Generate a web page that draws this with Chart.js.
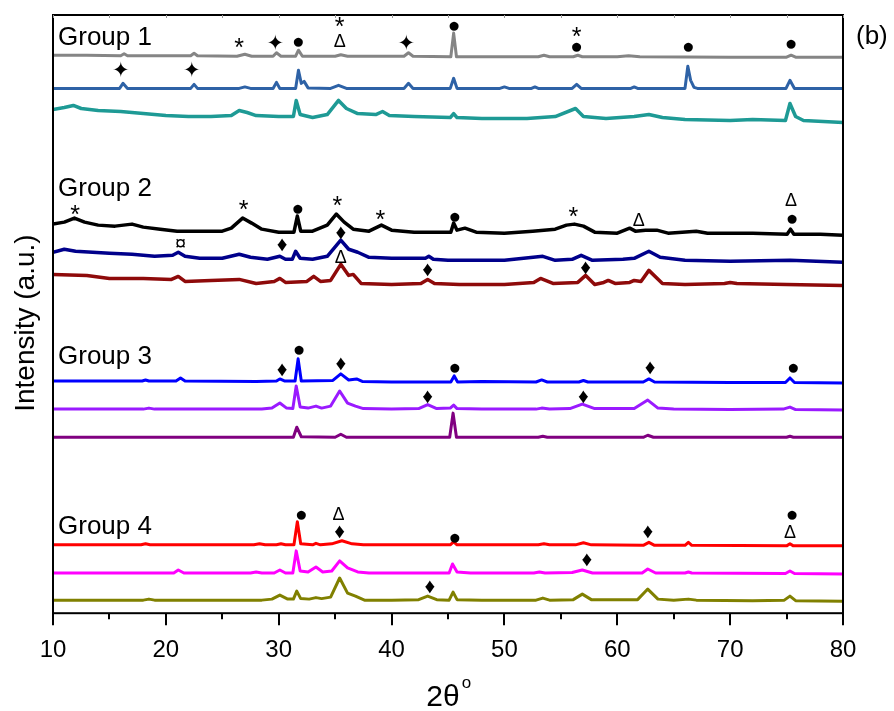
<!DOCTYPE html>
<html>
<head>
<meta charset="utf-8">
<script src="https://cdn.jsdelivr.net/npm/chart.js@4.4.1/dist/chart.umd.min.js"></script>
<style>
  html, body { margin: 0; padding: 0; background: #fff; }
  #wrap { position: relative; width: 894px; height: 711px; }
</style>
</head>
<body>
<div id="wrap"><canvas id="xrdChart"></canvas></div>
<script>
"use strict";

// ====
// Data  (x = 2theta in degrees, y = stacked intensity, a.u.)
// ====
const group1Gray = [[10,555],[13,555],[16,554.5],[16.3,556.5],[16.6,554.5],[19,554.5],[22.2,554.5],[22.5,557],[22.8,554.5],[26.3,554],[27,556],[27.6,554],[29.5,554],[29.8,557.5],[30.2,554],[31.5,554],[31.75,560],[32.1,554],[35,554],[35.5,555.5],[36.1,554],[41.1,554],[41.5,557.5],[41.9,554],[45.25,553.5],[45.5,577],[45.75,553.5],[48,553.5],[53,553.5],[53.5,555],[54,553.5],[56.1,553.5],[56.5,555],[56.9,553.5],[60,553.5],[61,554.5],[62,553.5],[70,553],[75,553],[75.4,555],[75.8,553],[80,553]];
const group1Blue = [[10,522],[15.9,522],[16.2,527],[16.6,522],[22.2,522],[22.5,526],[22.8,522],[26.5,522],[27,523.5],[27.5,522],[29.5,522],[29.8,528],[30.1,522],[31.5,522],[31.75,540],[32.0,527],[32.25,529],[32.6,522.5],[34.6,522],[35.3,525],[36,522],[41.1,522],[41.5,527],[41.9,522],[45.2,522],[45.5,532],[45.8,522],[49.6,522],[50,523.5],[50.4,522],[52.4,522],[52.7,523.5],[53,522],[56,522],[56.4,526],[56.8,522],[61.2,522],[61.5,523.5],[61.8,522],[66,522],[66.25,544],[66.5,530],[66.8,523],[67.1,522],[74.95,522],[75.3,530],[75.7,522],[80,522]];
const group1Teal = [[10,501],[11,503],[11.8,505],[12.5,502],[14,500],[16,499],[18,497],[20,495],[22,494],[24,494],[25.8,495],[26.5,500],[27.2,498],[28,495],[30,494],[31.3,494],[31.55,510],[31.9,496],[33,493],[34.3,496],[35.3,510],[36,502],[37,497],[38.6,496],[39.2,499],[39.8,495],[42,494],[45.2,493],[45.5,497],[45.8,493],[48,492],[52,492],[54.5,494],[56.3,502],[57,494],[59,492],[61.5,494],[62.8,496],[64,493],[66,491],[70,490],[72,491],[74.9,490],[75.3,507],[75.8,494],[76.5,490],[80,488]];

const group2Black = [[10,387],[11,389],[11.9,393],[12.8,389],[14,386],[15.5,385],[17,387],[18,384],[19.5,382],[21,380],[23,380],[25,380],[25.8,383],[26.8,393],[27.6,388],[28.5,382],[30,379],[31.35,379],[31.65,395],[31.95,380],[33,380],[34.3,386],[35.1,397],[35.8,389],[36.6,382],[38,380],[39.1,386],[40,381],[42,379],[45.25,379],[45.5,388],[45.8,381],[46.5,383],[47.5,379],[50,378],[52.5,380],[54.5,382],[55.5,386],[56.2,387],[57,385],[58,379],[60,378],[61.1,383],[61.6,380],[62.5,381],[63.5,381],[64.5,378],[67,380],[68,378],[72,378],[75.05,377],[75.35,382],[75.65,377],[78,377],[80,376]];
const group2Navy = [[10,359],[11,362],[12,360],[15,358],[17,357],[19,355],[20.6,356],[21.1,359],[21.7,355],[23,353],[25,353],[26.5,357],[27.5,354],[29,352],[30.1,355],[30.6,352],[31.2,352],[31.5,360],[31.9,353],[33,352],[34.3,355],[35.5,371],[36.2,362],[37,359],[38,354],[40,353],[43,353],[43.3,355],[43.7,352],[45,351],[47,351],[50,351],[53.4,355],[54.5,351],[56,352],[56.8,356],[57.8,351],[60.5,352],[61.5,353],[62.8,360],[63.8,354],[66,351],[70,350],[75.3,351],[80,349]];
const group2DarkRed = [[10,337],[13,336],[15,333],[18,333],[20.5,332],[21.1,335],[21.7,330],[24,331],[26.5,332],[28,328],[29.6,330],[30.1,333],[30.6,329],[32.5,330],[33.1,335],[33.7,330],[34.6,331],[35.5,347],[36.2,336],[36.6,337],[37.3,328],[40,327],[42.6,328],[43.2,332],[43.8,328],[46,327],[50,327],[52.6,329],[53.2,333],[54.3,328],[56.5,329],[57.2,336],[58,327],[58.8,329],[59.2,331],[59.8,328],[61.1,329],[61.5,331],[62.1,330],[62.8,341],[64,328],[66,327],[69.5,328],[70,329],[70.6,328],[75,327],[80,326]];

const group3Blue = [[10,231],[17.9,231],[18.2,232],[18.5,231],[20.9,231],[21.3,234],[21.7,231],[28,230.5],[29.8,231],[30.1,233],[30.5,231],[31.45,231],[31.72,253],[32.0,231],[34.8,231.5],[35.5,238],[36.2,232],[36.9,233],[37.4,230.5],[40,230],[45.25,230],[45.55,236],[45.85,230],[48,230.5],[52.8,230],[53.3,232],[53.8,230],[56.6,230],[57,231.5],[57.4,230],[62.3,230],[62.8,233],[63.3,230],[70,229.5],[74.9,229.5],[75.3,234],[75.7,229.5],[80,229]];
const group3Violet = [[10,203],[18,203],[18.5,204],[19,203],[28.5,203],[29.4,204],[30.1,209],[30.7,204],[31.25,203.5],[31.55,226],[31.9,205],[32.6,204],[33.3,206],[33.8,204],[34.6,206],[35.4,221],[36.1,209],[36.8,206],[37.5,203.5],[40,203],[42.4,203.5],[43.2,207.5],[44,203.5],[45.2,204],[45.5,207],[45.8,203.5],[48,203],[52.8,203],[53.3,204],[54,203],[55.8,203.5],[56.9,208],[58,203.5],[61.5,203.5],[62.7,212],[63.6,204],[65,203],[70,202.5],[74.7,203],[75.3,205],[75.8,202.5],[80,202]];
const group3Purple = [[10,175],[30,175],[31.3,175],[31.6,185],[32.0,175.5],[35,175],[35.5,178],[36,175],[45.15,175],[45.45,199],[45.75,175],[53,175],[53.4,176],[53.8,175],[62.3,175],[62.7,177],[63.2,175],[75,175],[75.3,176],[75.6,175],[80,175]];

const group4Red = [[10,68],[17.8,68],[18.2,69],[18.6,68],[27.8,68],[28.3,69],[28.8,68],[29.8,68],[30.2,69],[30.6,68],[31.35,68],[31.65,91],[31.95,69],[33,68],[33.3,69.5],[33.7,68],[34.7,69],[35.6,72],[36.5,69],[37.5,68],[45.2,68],[45.5,71],[45.8,68],[53,68],[53.5,69],[54,68],[56.3,68],[57,70],[57.7,68],[62.3,67.5],[62.8,70.5],[63.3,67.5],[66,67.5],[66.3,70.5],[66.6,67.5],[75,67],[75.3,69],[75.6,67],[80,67]];
const group4Magenta = [[10,40],[20.7,40],[21.1,43],[21.6,40],[27.5,40],[28,41],[28.5,40],[29.6,40],[30.1,43],[30.6,40],[31.25,40],[31.55,62],[31.9,42],[32.6,41],[33.3,46],[33.9,41],[34.7,42],[35.4,52],[36.1,45],[37,41],[38,40],[45.1,40],[45.4,49],[45.8,41],[47,40],[52.6,40],[53.1,41],[53.6,40],[56,40.5],[56.9,43],[57.8,40],[62.2,40],[62.7,44],[63.4,40],[66,40],[66.3,41],[66.6,40],[74.9,39.5],[75.3,42],[75.7,39.5],[80,39]];
const group4Olive = [[10,13],[18,13],[18.5,14],[19,13],[28.5,13],[29.4,14],[30.1,18],[30.8,14],[31.3,14],[31.6,22],[31.95,14.5],[32.7,14],[33.3,15.5],[33.8,14.5],[34.6,16],[35.4,35],[36.1,20],[36.8,17],[37.6,13],[40,13],[42.4,13.5],[43.2,17],[44,13.5],[45.1,13],[45.45,21],[45.8,13.5],[48,13],[52.8,13],[53.4,15],[54,13],[56.1,13.5],[56.9,19],[57.7,13.5],[61.8,13.5],[62.7,24],[63.6,14],[65,13],[66.3,14],[67,13],[72,12.5],[74.8,13],[75.3,17],[75.8,12.5],[80,12]];

// phase markers: [symbol, 2theta, height]
const peakMarks = [
  ["*", 26.5, 566], ["✦", 29.7, 566], ["●", 31.75, 569], ["*", 35.4, 587], ["Δ", 35.4, 568],
  ["✦", 41.3, 566], ["●", 45.55, 585], ["*", 56.4, 577], ["●", 56.4, 564], ["●", 66.3, 564],
  ["●", 75.4, 567], ["✦", 16.0, 539], ["✦", 22.3, 539],
  ["*", 11.95, 400], ["*", 26.9, 405], ["●", 31.7, 403], ["*", 35.2, 409], ["*", 39.0, 395],
  ["●", 45.6, 395], ["*", 56.1, 398], ["Δ", 61.9, 390], ["Δ", 75.4, 410], ["●", 75.5, 393],
  ["¤", 21.3, 367], ["♦", 30.3, 366], ["♦", 35.5, 378], ["Δ", 35.5, 353], ["♦", 43.2, 341],
  ["♦", 57.2, 343],
  ["♦", 30.3, 242], ["●", 31.8, 263], ["♦", 35.5, 248], ["●", 45.6, 245], ["♦", 62.9, 244],
  ["●", 75.6, 245], ["♦", 43.2, 215], ["♦", 57.0, 215],
  ["●", 32.0, 98], ["Δ", 35.3, 98], ["♦", 35.4, 81], ["●", 45.6, 76], ["♦", 62.7, 81],
  ["●", 75.5, 98], ["Δ", 75.3, 80], ["♦", 43.4, 26], ["♦", 57.3, 53],
];

const groupLabels = ["Group 1", "Group 2", "Group 3", "Group 4"];
const groupLabelHeights = [565, 415, 248, 79];

const majorTicks = [10, 20, 30, 40, 50, 60, 70, 80];
const minorTicks = [15, 25, 35, 45, 55, 65, 75];

// ======
// Styles
// ======
const SERIES = [
  { data: group1Gray, color: "#858585", width: 3 },
  { data: group1Blue, color: "#2E62A6", width: 3 },
  { data: group1Teal, color: "#1E9A95", width: 3.5 },
  { data: group2Black, color: "#000000", width: 3.5 },
  { data: group2Navy, color: "#00008B", width: 3.5 },
  { data: group2DarkRed, color: "#8E0A0A", width: 3.5 },
  { data: group3Blue, color: "#0000FF", width: 3 },
  { data: group3Violet, color: "#9A1AFF", width: 3 },
  { data: group3Purple, color: "#800080", width: 3 },
  { data: group4Red, color: "#FF0000", width: 3 },
  { data: group4Magenta, color: "#FF00FF", width: 3 },
  { data: group4Olive, color: "#808000", width: 3 },
];

const FONT = "'Liberation Sans', Arial, sans-serif";
const MARK_STYLE = {
  "●": { font: "21px " + FONT, dy: 1 },
  "♦": { font: "21px " + FONT, dy: 0 },
  "Δ": { font: "18px " + FONT, dy: 0 },
  "*": { font: "25px " + FONT, dy: 5 },
  "✦": { font: "21px 'DejaVu Sans', sans-serif", dy: 0 },
  "¤": { font: "20px " + FONT, dy: 0 },
};

// ==============
// Overlay plugin
// ==============
const overlayPlugin = {
  id: "xrdOverlay",
  afterDraw(chart) {
    const { ctx, chartArea: a } = chart;
    const x = chart.scales.x;
    const y = chart.scales.y;
    ctx.save();

    // frame
    ctx.strokeStyle = "#000";
    ctx.lineWidth = 2;
    ctx.strokeRect(a.left, a.top, a.right - a.left, a.bottom - a.top);

    // bottom ticks (outside)
    ctx.beginPath();
    majorTicks.forEach((v) => {
      const px = Math.round(x.getPixelForValue(v));
      ctx.moveTo(px, a.bottom);
      ctx.lineTo(px, a.bottom + 12);
    });
    minorTicks.forEach((v) => {
      const px = Math.round(x.getPixelForValue(v));
      ctx.moveTo(px, a.bottom);
      ctx.lineTo(px, a.bottom + 6);
    });
    ctx.stroke();

    // faint top ticks (inside)
    ctx.lineWidth = 1;
    ctx.strokeStyle = "#999";
    ctx.beginPath();
    [...majorTicks, ...minorTicks].forEach((v) => {
      const px = Math.round(x.getPixelForValue(v)) + 0.5;
      ctx.moveTo(px, a.top);
      ctx.lineTo(px, a.top + 3);
    });
    ctx.stroke();

    // phase markers
    ctx.fillStyle = "#000";
    ctx.textAlign = "center";
    ctx.textBaseline = "middle";
    peakMarks.forEach(([sym, tx, ty]) => {
      const st = MARK_STYLE[sym];
      ctx.font = st.font;
      ctx.fillText(sym, x.getPixelForValue(tx), y.getPixelForValue(ty) + st.dy);
    });

    // group labels
    ctx.font = "26px " + FONT;
    ctx.textAlign = "left";
    ctx.textBaseline = "alphabetic";
    groupLabels.forEach((label, i) => {
      ctx.fillText(label, a.left + 5, y.getPixelForValue(groupLabelHeights[i]));
    });

    // panel letter
    ctx.font = "26px " + FONT;
    ctx.fillText("(b)", a.right + 13, a.top + 29);

    // x title: 2θ with superscript o
    ctx.font = "30px " + FONT;
    const main = "2θ";
    const w = ctx.measureText(main).width;
    const cx = (a.left + a.right) / 2;
    ctx.fillText(main, cx - w / 2 - 5, 706);
    ctx.font = "17px " + FONT;
    ctx.fillText("o", cx + w / 2 - 3, 688);

    // y title
    ctx.translate(34, (a.top + a.bottom) / 2 + 9);
    ctx.rotate(-Math.PI / 2);
    ctx.font = "28px " + FONT;
    ctx.textAlign = "center";
    ctx.fillText("Intensity (a.u.)", 0, 0);

    ctx.restore();
  },
};

// ===========
// Chart setup
// ===========
const ctx = document.getElementById("xrdChart");
new Chart(ctx, {
  type: "line",
  data: {
    datasets: SERIES.map((s) => ({
      data: s.data.map((p) => ({ x: p[0], y: p[1] })),
      borderColor: s.color,
      backgroundColor: s.color,
      borderWidth: s.width,
      pointRadius: 0,
      tension: 0,
      fill: false,
      borderJoinStyle: "round",
    })),
  },
  options: {
    responsive: true,
    maintainAspectRatio: false,
    animation: false,
    layout: { padding: { left: 53, right: 51, top: 15, bottom: 31 } },
    plugins: { legend: { display: false }, tooltip: { enabled: false } },
    scales: {
      x: {
        type: "linear",
        min: 10,
        max: 80,
        grid: { display: false },
        border: { display: false },
        ticks: {
          stepSize: 10,
          padding: 15,
          color: "#000",
          font: { family: FONT, size: 24 },
          maxRotation: 0,
        },
      },
      y: {
        display: false,
        min: 0,
        max: 595,
      },
    },
  },
  plugins: [overlayPlugin],
});
</script>
</body>
</html>
